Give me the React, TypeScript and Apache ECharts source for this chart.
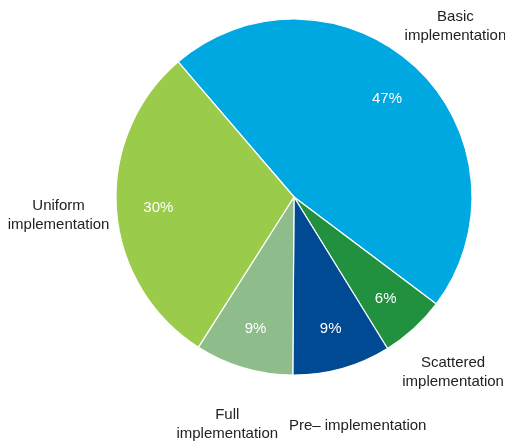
import React, { useEffect, useRef } from "react";
import * as echarts from "echarts";

const categories = [
  "Basic\nimplementation",
  "Scattered\nimplementation",
  "Pre– implementation",
  "Full\nimplementation",
  "Uniform\nimplementation",
];
const values = [47, 6, 9, 9, 30];
const colors = ["#00a8e1", "#22913f", "#004a93", "#8ebd8b", "#9bcb4a"];

export default function App() {
  const ref = useRef<HTMLDivElement>(null);
  useEffect(() => {
    if (!ref.current) return;
    const chart = echarts.init(ref.current, null, { renderer: "svg" });
    const data = categories.map((name, i) => ({
      name,
      value: values[i],
      itemStyle: { color: colors[i] },
    }));
    const center = [294, 197];
    const font = "'Liberation Sans', Arial, sans-serif";
    chart.setOption({
      animation: false,
      series: [
        {
          type: "pie",
          center,
          radius: [0, 178],
          startAngle: 130.6,
          clockwise: true,
          silent: true,
          data,
          itemStyle: { borderColor: "#ffffff", borderWidth: 1.2 },
          label: { show: false },
          labelLine: { show: false },
        },
        {
          type: "pie",
          center,
          radius: [88, 178],
          startAngle: 130.6,
          silent: true,
          data: data.map((d) => ({ ...d, itemStyle: { color: "transparent" } })),
          label: {
            show: true,
            position: "inside",
            formatter: (p: any) => `${p.value}%`,
            color: "#ffffff",
            fontSize: 15,
            fontFamily: font,
          },
          labelLine: { show: false },
        },
        {
          type: "pie",
          center,
          radius: [229, 237],
          startAngle: 130.6,
          silent: true,
          data: data.map((d) => ({ ...d, itemStyle: { color: "transparent" } })),
          label: {
            show: true,
            position: "inside",
            formatter: "{b}",
            color: "#222222",
            fontSize: 15,
            lineHeight: 19,
            fontFamily: font,
            align: "center",
          },
          labelLine: { show: false },
        },
      ],
    });
    return () => chart.dispose();
  }, []);
  return (
    <div
      ref={ref}
      style={{ position: "fixed", left: 0, top: 0, width: 505, height: 441 }}
    />
  );
}
